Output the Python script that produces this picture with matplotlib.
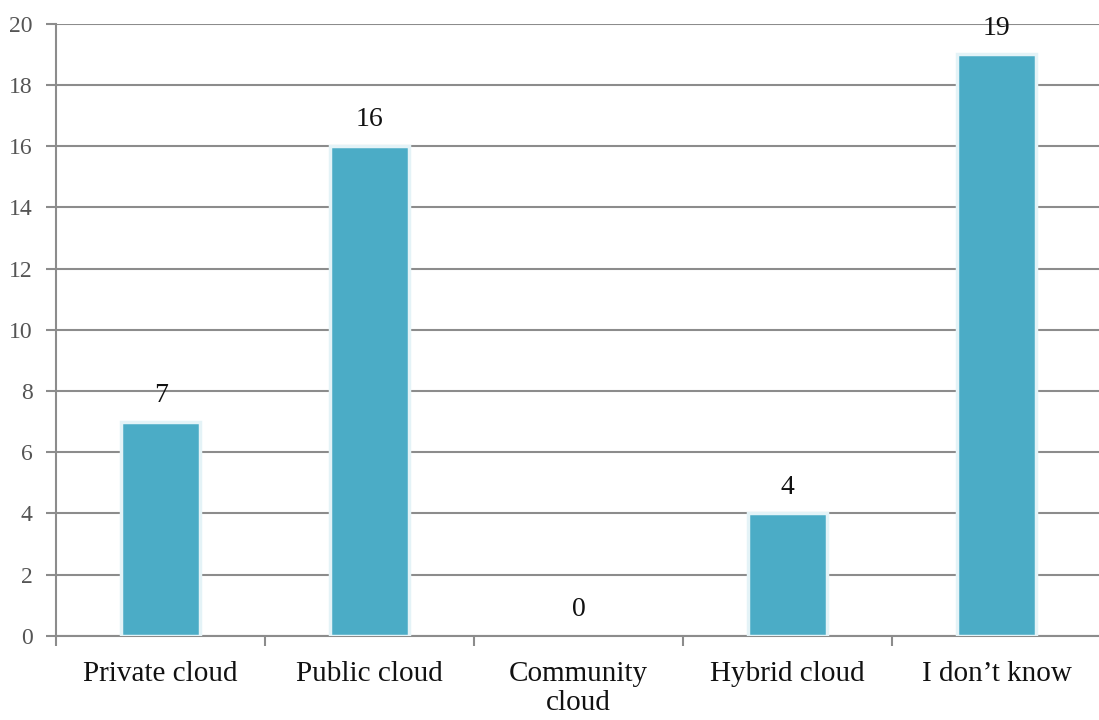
import matplotlib.pyplot as plt

# Cloud deployment model responses
categories = ["Private cloud", "Public cloud", "Community\ncloud", "Hybrid cloud", "I don\u2019t know"]
counts = [7, 16, 0, 4, 19]
y_ticks = list(range(0, 21, 2))

plt.rcParams['font.family'] = ['Liberation Serif', 'DejaVu Serif']

fig = plt.figure(figsize=(10.99, 7.2), dpi=100)
ax = fig.add_axes([0.051, 0.117, 0.951, 0.85])

x = list(range(len(categories)))
bars = ax.bar(x, counts, width=0.38, color='#4bacc6', edgecolor='#e4f3f7',
              linewidth=2.5, zorder=3)
for b, v in zip(bars, counts):
    if v == 0:
        b.set_linewidth(0)

for xi, v in zip(x, counts):
    ax.text(xi, v + 0.45, str(v), ha='center', va='bottom', fontsize=20, color='#111111')

ax.set_xlim(-0.5, len(categories) - 0.5)
ax.set_ylim(0, 20)
ax.set_yticks(y_ticks)
ax.set_yticklabels([str(t) for t in y_ticks], fontsize=17, color='#555555')
ax.yaxis.grid(True, color='#8c8c8c', linewidth=1.5, zorder=0)
ax.set_axisbelow(True)

ax.set_xticks([i + 0.5 for i in range(-1, len(categories))], minor=False)
ax.set_xticklabels([])
ax.set_xticks(x, minor=True)
ax.set_xticklabels(categories, minor=True, fontsize=21, color='#111111', linespacing=1.15)
ax.tick_params(axis='x', which='minor', length=0, pad=18)
ax.tick_params(axis='x', which='major', length=7, width=1.5, color='#8c8c8c')
ax.tick_params(axis='y', length=7, width=1.5, color='#8c8c8c', pad=10)

for side in ['top', 'right']:
    ax.spines[side].set_visible(False)
for side in ['left', 'bottom']:
    ax.spines[side].set_color('#8c8c8c')
    ax.spines[side].set_linewidth(1.5)

fig.savefig('out.png', dpi=100)
